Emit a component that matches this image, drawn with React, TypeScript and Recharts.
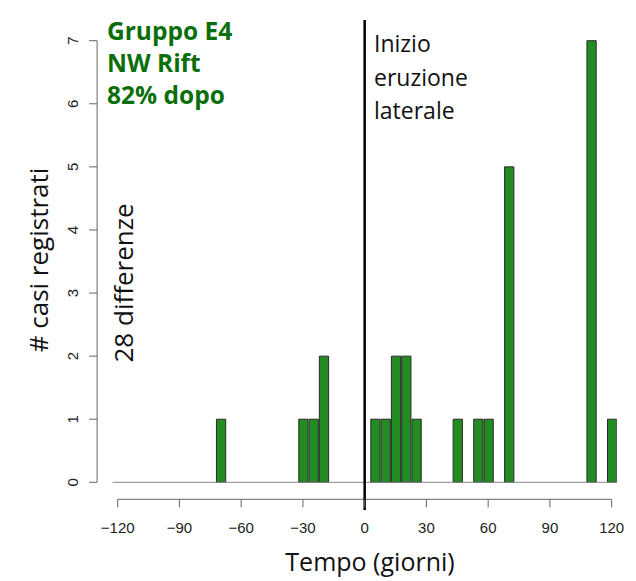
import React from 'react';
import { BarChart, Bar, XAxis, YAxis, ReferenceLine } from 'recharts';

// histogram bins (centre day, width 5 days) and counts
const BIN_CENTERS = [-70, -30, -25, -20, 5, 10, 15, 20, 25, 45, 55, 60, 70, 110, 120];
const COUNTS = [1, 1, 1, 2, 1, 1, 2, 2, 1, 1, 1, 1, 5, 7, 1];
const BIN_WIDTH = 5;
const HIST_RANGE = [-122.5, 122.5];

const X_TICKS = [-120, -90, -60, -30, 0, 30, 60, 90, 120];
const Y_TICKS = [0, 1, 2, 3, 4, 5, 6, 7];
const ONSET_DAY = 0;

const GROUP_LINES = ['Gruppo E4', 'NW Rift', '82% dopo'];
const ONSET_LINES = ['Inizio', 'eruzione', 'laterale'];

const data = BIN_CENTERS.map((day, i) => ({ day, count: COUNTS[i] }));

// layout
const W = 636;
const H = 581;
const PLOT_LEFT = 97.1;
const PLOT_RIGHT = 616.8;
const PLOT_TOP = 40.7;
const PLOT_BOTTOM = 482.3;
const X_DOMAIN: [number, number] = [-130, 122.5];
const Y_DOMAIN: [number, number] = [0, 7];
const X_AXIS_HEIGHT = 40;

const pxPerDay = (PLOT_RIGHT - PLOT_LEFT) / (X_DOMAIN[1] - X_DOMAIN[0]);
const pxPerUnit = (PLOT_BOTTOM - PLOT_TOP) / (Y_DOMAIN[1] - Y_DOMAIN[0]);
const toY = (py: number) => (PLOT_BOTTOM - py) / pxPerUnit;

const AXIS_Y = 499.3;
const GREEN_TEXT = '#0a6e0a';
const TICK_FONT = '"Liberation Sans", Arial, sans-serif';
const TEXT_FONT = '"Open Sans", "Noto Sans", sans-serif';

const fmt = (v: number) => (v < 0 ? '\u2212' + Math.abs(v) : String(v));

const XTick = (props: any) => {
  const { x, payload } = props;
  return (
    <g>
      <line x1={x} x2={x} y1={AXIS_Y} y2={AXIS_Y + 8} stroke="#666" strokeWidth={1} />
      <text x={x} y={532.5} textAnchor="middle" fontFamily={TICK_FONT} fontSize={15} fill="#222">
        {fmt(payload.value)}
      </text>
    </g>
  );
};

const YTick = (props: any) => {
  const { y, payload } = props;
  return (
    <text
      x={73}
      y={y}
      transform={`rotate(-90, 73, ${y})`}
      textAnchor="middle"
      dominantBaseline="central"
      fontFamily={TICK_FONT}
      fontSize={15}
      fill="#222"
    >
      {payload.value}
    </text>
  );
};

export default function App() {
  return (
    <div style={{ position: 'absolute', left: 0, top: 0, width: W, height: H, background: '#fff' }}>
      <BarChart
        width={W}
        height={H}
        data={data}
        margin={{ top: PLOT_TOP, right: W - PLOT_RIGHT, left: 0, bottom: H - PLOT_BOTTOM - X_AXIS_HEIGHT }}
      >
        <XAxis
          dataKey="day"
          type="number"
          domain={X_DOMAIN}
          ticks={X_TICKS}
          allowDataOverflow
          axisLine={false}
          tickLine={false}
          tick={<XTick />}
          height={X_AXIS_HEIGHT}
          interval={0}
        />
        <YAxis
          type="number"
          domain={Y_DOMAIN}
          ticks={Y_TICKS}
          width={PLOT_LEFT}
          interval={0}
          axisLine={{ stroke: '#666', strokeWidth: 1 }}
          tickLine={{ stroke: '#666', strokeWidth: 1 }}
          tickSize={8}
          tick={<YTick />}
        />
        {/* x axis line, R style: only between the outer ticks */}
        <ReferenceLine
          segment={[
            { x: X_TICKS[0], y: toY(AXIS_Y) },
            { x: X_TICKS[X_TICKS.length - 1], y: toY(AXIS_Y) },
          ]}
          stroke="#666"
          strokeWidth={1}
          ifOverflow="visible"
        />
        {/* histogram baseline */}
        <ReferenceLine
          segment={[
            { x: HIST_RANGE[0], y: 0 },
            { x: HIST_RANGE[1], y: 0 },
          ]}
          stroke="#888"
          strokeWidth={1}
          ifOverflow="visible"
        />
        <Bar
          dataKey="count"
          fill="#228B22"
          stroke="#2a2a2a"
          strokeWidth={1}
          barSize={BIN_WIDTH * pxPerDay}
          isAnimationActive={false}
        />
        {/* onset of the lateral eruption */}
        <ReferenceLine
          segment={[
            { x: ONSET_DAY, y: toY(20) },
            { x: ONSET_DAY, y: toY(510) },
          ]}
          stroke="#000"
          strokeWidth={2.5}
          ifOverflow="visible"
        />
      </BarChart>

      <svg
        width={W}
        height={H}
        style={{ position: 'absolute', left: 0, top: 0, pointerEvents: 'none' }}
      >
        {GROUP_LINES.map((t, i) => (
          <text key={t} x={107} y={39.5 + i * 32.4} fontFamily={TEXT_FONT} fontWeight={700} fontSize={24.5} fill={GREEN_TEXT}>
            {t}
          </text>
        ))}
        {ONSET_LINES.map((t, i) => (
          <text key={t} x={374} y={52 + i * 33.5} fontFamily={TEXT_FONT} fontSize={23} fill="#111">
            {t}
          </text>
        ))}
        <text
          x={48}
          y={260}
          transform="rotate(-90, 48, 260)"
          textAnchor="middle"
          fontFamily={TEXT_FONT}
          fontSize={26}
          fill="#111"
        >
          # casi registrati
        </text>
        <text
          x={133}
          y={283}
          transform="rotate(-90, 133, 283)"
          textAnchor="middle"
          fontFamily={TEXT_FONT}
          fontSize={26}
          fill="#111"
        >
          28 differenze
        </text>
        <text x={370} y={571} textAnchor="middle" fontFamily={TEXT_FONT} fontSize={25} fill="#111">
          Tempo (giorni)
        </text>
      </svg>
    </div>
  );
}
